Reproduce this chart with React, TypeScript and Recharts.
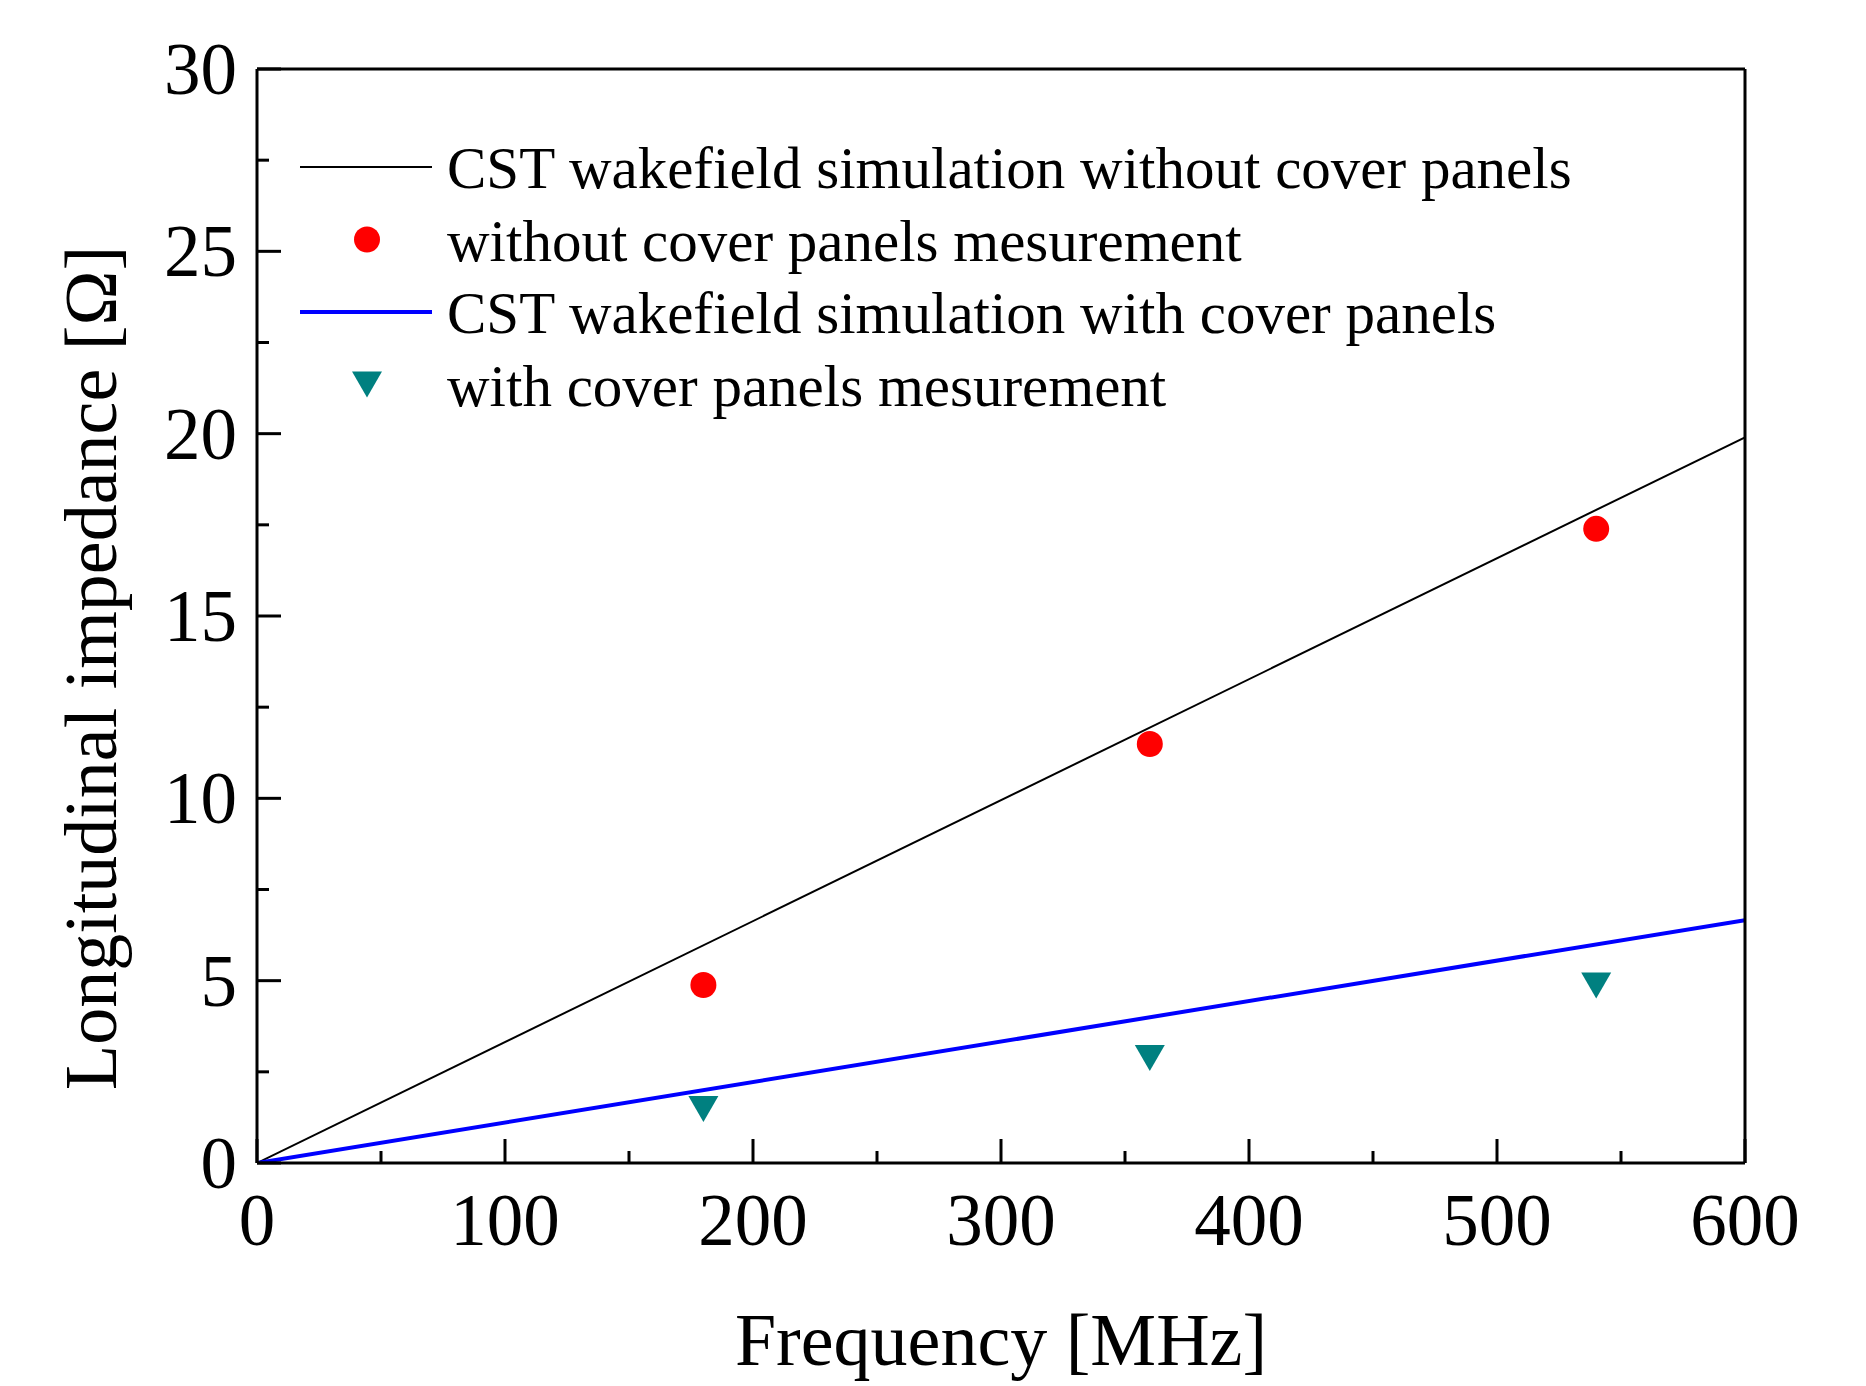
import { ComposedChart, Legend, Line, Scatter, XAxis, YAxis } from "recharts"

// simulation lines (CST wakefield)
const simFreq = [0, 600]
const simNoCover = [0, 19.9]
const simWithCover = [0, 6.66]

// measurements
const measFreq = [180, 360, 540]
const measNoCover = [4.88, 11.49, 17.39]
const measWithCover = [1.48, 2.88, 4.87]

const xTicks = [0, 50, 100, 150, 200, 250, 300, 350, 400, 450, 500, 550, 600]
const yTicks = [0, 2.5, 5, 7.5, 10, 12.5, 15, 17.5, 20, 22.5, 25, 27.5, 30]

const legendNames = [
    "CST wakefield simulation without cover panels",
    "without cover panels mesurement",
    "CST wakefield simulation with cover panels",
    "with cover panels mesurement",
]

const FONT = "'Liberation Serif', 'Times New Roman', serif"
const MAJOR = 24
const MINOR = 12

const toRows = (xs: number[], ys: number[]) => xs.map((x, i) => ({ x, y: ys[i] }))

const noCoverLine = toRows(simFreq, simNoCover)
const withCoverLine = toRows(simFreq, simWithCover)
const noCoverPts = toRows(measFreq, measNoCover)
const withCoverPts = toRows(measFreq, measWithCover)

const isMajorX = (v: number) => v % 100 === 0
const isMajorY = (v: number) => v % 5 === 0

function BottomTick({ x, y, payload }: any) {
    const major = isMajorX(payload.value)
    return (
        <g>
            <line x1={x} x2={x} y1={y} y2={y - (major ? MAJOR : MINOR)} stroke="#000" strokeWidth={3} />
            {major && (
                <text x={x} y={y + 82} textAnchor="middle" fontFamily={FONT} fontSize={73} fill="#000">
                    {payload.value}
                </text>
            )}
        </g>
    )
}

function TopTick({ x, y, payload }: any) {
    const len = isMajorX(payload.value) ? MAJOR : MINOR
    return <line x1={x} x2={x} y1={y} y2={y + len} stroke="#000" strokeWidth={3} />
}

function LeftTick({ x, y, payload }: any) {
    const major = isMajorY(payload.value)
    return (
        <g>
            <line x1={x} x2={x + (major ? MAJOR : MINOR)} y1={y} y2={y} stroke="#000" strokeWidth={3} />
            {major && (
                <text x={x - 20} y={y + 25} textAnchor="end" fontFamily={FONT} fontSize={73} fill="#000">
                    {payload.value}
                </text>
            )}
        </g>
    )
}

function RightTick({ x, y, payload }: any) {
    const len = isMajorY(payload.value) ? MAJOR : MINOR
    return <line x1={x} x2={x - len} y1={y} y2={y} stroke="#000" strokeWidth={3} />
}

function RedDot(props: any) {
    return <circle cx={props.cx} cy={props.cy} r={13} fill="#ff0000" />
}

const triPoints = (cx: number, cy: number) =>
    `${cx - 15},${cy - 13} ${cx + 15},${cy - 13} ${cx},${cy + 13}`

function DownTriangle(props: any) {
    return <polygon points={triPoints(props.cx, props.cy)} fill="#008080" />
}

function LegendBox() {
    const rowGap = 72.5
    return (
        <svg width={1400} height={300} style={{ display: "block" }}>
            {legendNames.map((name, i) => {
                const cy = 39 + i * rowGap
                return (
                    <g key={name}>
                        {i === 0 && <line x1={12} x2={144} y1={cy} y2={cy} stroke="#000" strokeWidth={2} />}
                        {i === 1 && <circle cx={79} cy={cy} r={13} fill="#ff0000" />}
                        {i === 2 && <line x1={12} x2={144} y1={cy} y2={cy} stroke="#0000ff" strokeWidth={4} />}
                        {i === 3 && <polygon points={triPoints(79, cy)} fill="#008080" />}
                        <text x={159} y={cy + 21} fontFamily={FONT} fontSize={59} fill="#000">
                            {name}
                        </text>
                    </g>
                )
            })}
        </svg>
    )
}

function YTitle({ viewBox }: any) {
    const cy = viewBox.y + viewBox.height / 2 + 52
    return (
        <text
            x={108}
            y={cy}
            transform={`rotate(-90, 108, ${cy})`}
            textAnchor="middle"
            fontFamily={FONT}
            fontSize={74}
            fill="#000"
        >
            Longitudinal impedance [Ω]
        </text>
    )
}

function XTitle({ viewBox }: any) {
    const cx = viewBox.x + viewBox.width / 2
    return (
        <text x={cx} y={1357} textAnchor="middle" fontFamily={FONT} fontSize={74} fill="#000">
            Frequency [MHz]
        </text>
    )
}

export default function App() {
    return (
        <div style={{ width: 1850, height: 1376, background: "#fff" }}>
            <ComposedChart
                width={1850}
                height={1376}
                margin={{ top: 60, right: 112, bottom: 0, left: 0 }}
            >
                <XAxis
                    xAxisId={0}
                    dataKey="x"
                    type="number"
                    domain={[0, 600]}
                    ticks={xTicks}
                    interval={0}
                    height={221}
                    tickSize={0}
                    tickMargin={0}
                    tickLine={false}
                    axisLine={{ stroke: "#000", strokeWidth: 3 }}
                    tick={(p: any) => <BottomTick {...p} />}
                    label={<XTitle />}
                    allowDataOverflow
                />
                <XAxis
                    xAxisId="top"
                    orientation="top"
                    dataKey="x"
                    type="number"
                    domain={[0, 600]}
                    ticks={xTicks}
                    interval={0}
                    height={1}
                    tickSize={0}
                    tickMargin={0}
                    tickLine={false}
                    axisLine={{ stroke: "#000", strokeWidth: 3 }}
                    tick={(p: any) => <TopTick {...p} />}
                />
                <YAxis
                    yAxisId={0}
                    dataKey="y"
                    type="number"
                    domain={[0, 30]}
                    ticks={yTicks}
                    interval={0}
                    width={249}
                    tickSize={0}
                    tickMargin={0}
                    tickLine={false}
                    axisLine={{ stroke: "#000", strokeWidth: 3 }}
                    tick={(p: any) => <LeftTick {...p} />}
                    label={<YTitle />}
                    allowDataOverflow
                />
                <YAxis
                    yAxisId="right"
                    orientation="right"
                    dataKey="y"
                    type="number"
                    domain={[0, 30]}
                    ticks={yTicks}
                    interval={0}
                    width={1}
                    tickSize={0}
                    tickMargin={0}
                    tickLine={false}
                    axisLine={{ stroke: "#000", strokeWidth: 3 }}
                    tick={(p: any) => <RightTick {...p} />}
                />
                <Legend
                    layout="vertical"
                    align="center"
                    verticalAlign="middle"
                    wrapperStyle={{ left: 280, top: 120, width: 1400, height: 300 }}
                    content={() => <LegendBox />}
                />
                <Line
                    data={noCoverLine}
                    dataKey="y"
                    type="linear"
                    stroke="#000"
                    strokeWidth={2}
                    dot={false}
                    activeDot={false}
                    isAnimationActive={false}
                />
                <Line
                    data={withCoverLine}
                    dataKey="y"
                    type="linear"
                    stroke="#0000ff"
                    strokeWidth={4}
                    dot={false}
                    activeDot={false}
                    isAnimationActive={false}
                />
                <Scatter data={noCoverPts} dataKey="y" shape={<RedDot />} isAnimationActive={false} />
                <Scatter data={withCoverPts} dataKey="y" shape={<DownTriangle />} isAnimationActive={false} />
            </ComposedChart>
        </div>
    )
}
